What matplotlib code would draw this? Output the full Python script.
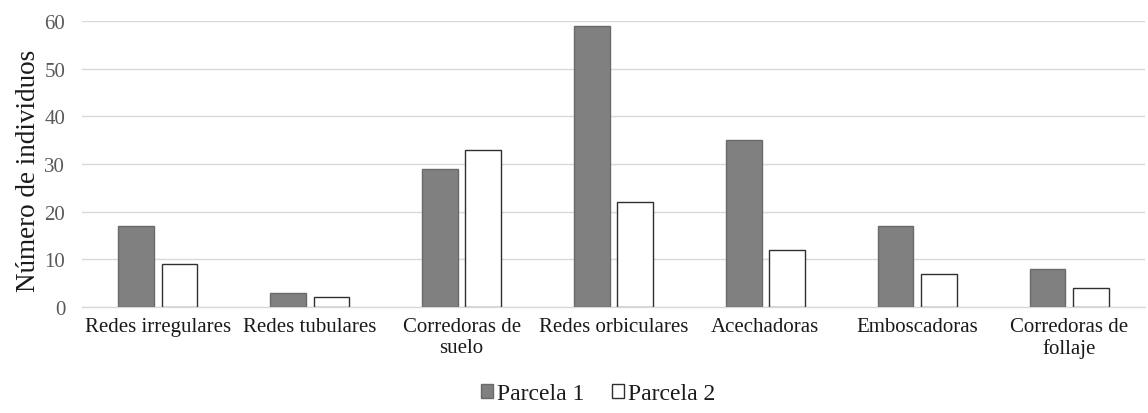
import matplotlib
matplotlib.use("Agg")
import matplotlib.pyplot as plt
import numpy as np

categories = ["Redes irregulares", "Redes tubulares", "Corredoras de\nsuelo",
              "Redes orbiculares", "Acechadoras", "Emboscadoras", "Corredoras de\nfollaje"]
parcela1 = [17, 3, 29, 59, 35, 17, 8]
parcela2 = [9, 2, 33, 22, 12, 7, 4]
yticks = [0, 10, 20, 30, 40, 50, 60]

plt.rcParams["font.family"] = ["Liberation Serif", "DejaVu Serif"]

fig = plt.figure(figsize=(11.48, 4.14), dpi=100)
ax = fig.add_axes([0.0714, 0.256, 0.926, 0.691])

x = np.arange(len(categories))
w = 0.235
gap = 0.05
ax.bar(x - (w + gap) / 2, parcela1, width=w, color="#808080", edgecolor="#6a6a6a",
       linewidth=1.0, label="Parcela 1", zorder=3)
ax.bar(x + (w + gap) / 2, parcela2, width=w, color="white", edgecolor="#303030",
       linewidth=1.0, label="Parcela 2", zorder=3)

ax.set_xlim(-0.5, len(categories) - 0.5)
ax.set_ylim(0, 60)
ax.set_yticks(yticks)
ax.yaxis.grid(True, color="#d9d9d9", linewidth=1.0, zorder=0)
ax.set_axisbelow(True)
for s in ["top", "right", "left"]:
    ax.spines[s].set_visible(False)
ax.spines["bottom"].set_color("#d9d9d9")
ax.spines["bottom"].set_linewidth(1.0)
ax.tick_params(axis="both", length=0)
ax.tick_params(axis="y", labelsize=15, labelcolor="#595959", pad=12)
ax.set_xticks(x)
ax.set_xticklabels(categories, fontsize=15, color="#1a1a1a", linespacing=1.15)
ax.tick_params(axis="x", pad=7)
ax.set_ylabel("Número de individuos", fontsize=19.5, color="#1a1a1a")
ax.yaxis.set_label_coords(-0.039, 0.479)

fig.legend(loc="center", bbox_to_anchor=(0.521, 0.046), ncol=2, frameon=False,
           fontsize=17, handlelength=0.5, handleheight=0.5, handletextpad=0.15,
           columnspacing=1.2, labelcolor="#1a1a1a")

fig.savefig("out.png", dpi=100)
